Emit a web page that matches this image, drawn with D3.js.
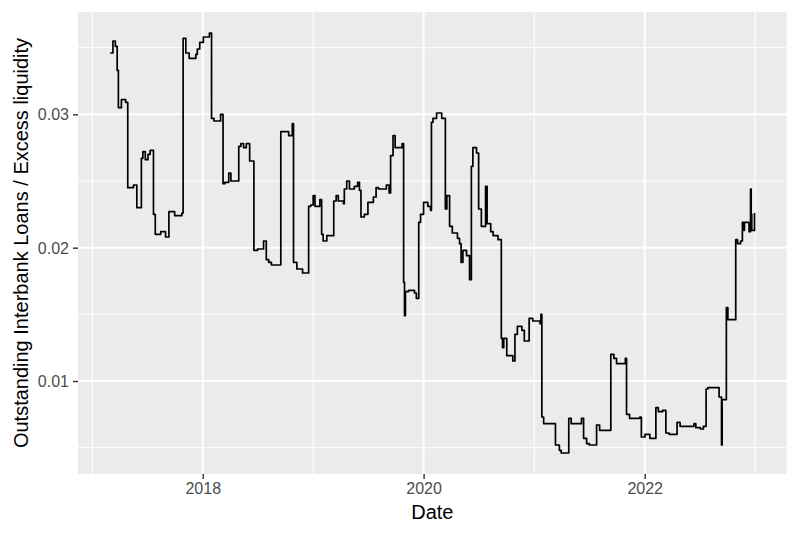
<!DOCTYPE html>
<html><head><meta charset="utf-8">
<script src="https://cdn.jsdelivr.net/npm/d3@7"></script>
<style>body{margin:0;background:#fff}svg{display:block}</style>
</head><body>
<script>
const dates = [
"2017-03-01","2017-03-10","2017-03-18","2017-03-24","2017-03-28","2017-04-07","2017-04-21","2017-04-28","2017-05-17","2017-05-28",
"2017-06-12","2017-06-17","2017-06-25","2017-07-04","2017-07-11","2017-07-22","2017-07-28","2017-08-15","2017-08-31","2017-09-11",
"2017-09-30","2017-10-24","2017-10-28","2017-11-06","2017-11-17","2017-12-09","2017-12-14","2017-12-22","2018-01-03","2018-01-23",
"2018-01-30","2018-02-07","2018-03-01","2018-03-09","2018-03-15","2018-03-28","2018-04-04","2018-04-30","2018-05-07","2018-05-16",
"2018-05-25","2018-06-05","2018-06-19","2018-07-01","2018-07-21","2018-07-30","2018-08-07","2018-08-16","2018-09-16","2018-10-12",
"2018-10-24","2018-10-28","2018-11-08","2018-11-27","2018-12-17","2018-12-24","2019-01-01","2019-01-07","2019-01-23","2019-01-29",
"2019-02-03","2019-02-15","2019-03-10","2019-03-18","2019-03-25","2019-04-11","2019-04-14","2019-04-22","2019-05-01","2019-05-17",
"2019-05-28","2019-06-03","2019-06-08","2019-06-19","2019-07-01","2019-07-19","2019-07-28","2019-08-05","2019-08-31","2019-09-09",
"2019-09-14","2019-09-22","2019-09-29","2019-10-22","2019-10-27","2019-10-30","2019-11-02","2019-11-12","2019-12-02","2019-12-08",
"2019-12-16","2019-12-22","2020-01-01","2020-01-15","2020-01-24","2020-01-27","2020-02-01","2020-02-13","2020-03-01","2020-03-13",
"2020-03-18","2020-03-27","2020-04-05","2020-04-22","2020-04-29","2020-05-04","2020-05-10","2020-05-22","2020-06-01","2020-06-07",
"2020-06-12","2020-06-24","2020-07-01","2020-07-10","2020-07-24","2020-07-29","2020-08-10","2020-08-18","2020-09-03","2020-09-14",
"2020-09-18","2020-09-22","2020-10-02","2020-10-22","2020-10-29","2020-11-06","2020-11-21","2020-11-29","2020-12-15","2020-12-27",
"2021-01-20","2021-01-23","2021-01-26","2021-02-01","2021-03-12","2021-03-25","2021-03-31","2021-04-25","2021-05-03","2021-06-06",
"2021-06-13","2021-06-23","2021-07-02","2021-07-26","2021-08-05","2021-09-11","2021-09-21","2021-09-30","2021-10-29","2021-11-02",
"2021-11-12","2021-12-16","2021-12-21","2022-01-02","2022-01-18","2022-02-07","2022-02-15","2022-03-01","2022-03-12","2022-03-23",
"2022-04-18","2022-04-28","2022-06-13","2022-06-19","2022-07-04","2022-07-14","2022-07-23","2022-07-29","2022-09-04","2022-09-12",
"2022-09-14","2022-09-28","2022-10-03","2022-10-29","2022-11-04","2022-11-14","2022-11-20","2022-11-25","2022-11-27","2022-12-12",
"2022-12-17","2022-12-19","2022-12-21","2022-12-30"];

const ratio = [
0.0346,0.0355,0.0351,0.0333,0.0305,0.0311,0.0309,0.0245,0.0247,0.0230,
0.0267,0.0272,0.0266,0.0270,0.0273,0.0225,0.0210,0.0212,0.0208,0.0227,
0.0224,0.0226,0.0357,0.0346,0.0342,0.0345,0.0349,0.0354,0.0358,0.0361,
0.0297,0.0295,0.0300,0.0248,0.0249,0.0256,0.0250,0.0276,0.0278,0.0275,
0.0278,0.0265,0.0198,0.0199,0.0205,0.0191,0.0189,0.0187,0.0287,0.0284,
0.0293,0.0189,0.0184,0.0181,0.0231,0.0232,0.0239,0.0231,0.0236,0.0210,
0.0205,0.0209,0.0235,0.0239,0.0235,0.0233,0.0244,0.0250,0.0244,0.0246,
0.0249,0.0243,0.0223,0.0225,0.0234,0.0238,0.0245,0.0244,0.0247,0.0241,
0.0269,0.0284,0.0275,0.0278,0.0174,0.0149,0.0167,0.0168,0.0166,0.0162,
0.0219,0.0225,0.0234,0.0231,0.0228,0.0294,0.0297,0.0301,0.0297,0.0229,
0.0239,0.0216,0.0211,0.0207,0.0203,0.0189,0.0198,0.0194,0.0176,0.0261,
0.0275,0.0271,0.0229,0.0216,0.0246,0.0218,0.0212,0.0209,0.0206,0.0132,
0.0125,0.0132,0.0119,0.0115,0.0135,0.0141,0.0138,0.0130,0.0147,0.0145,
0.0143,0.0150,0.0073,0.0068,0.0052,0.0048,0.0046,0.0072,0.0068,0.0072,
0.0057,0.0053,0.0052,0.0067,0.0063,0.0120,0.0117,0.0113,0.0117,0.0075,
0.0072,0.0073,0.0058,0.0060,0.0057,0.0080,0.0077,0.0078,0.0061,0.0060,
0.0069,0.0066,0.0068,0.0065,0.0064,0.0066,0.0094,0.0095,0.0088,0.0052,
0.0086,0.0155,0.0146,0.0206,0.0203,0.0205,0.0219,0.0213,0.0219,0.0212,
0.0244,0.0225,0.0213,0.0226];

const yMajor = [0.01, 0.02, 0.03];
const yMinor = [0.005, 0.015, 0.025, 0.035];
const xMajor = ["2018-01-01", "2020-01-01", "2022-01-01"];
const xMinor = ["2017-01-01", "2019-01-01", "2021-01-01", "2023-01-01"];
const xTitle = "Date";
const yTitle = "Outstanding Interbank Loans / Excess liquidity";

const W = 793, H = 533;
const m = {left: 78, right: 6.3, top: 12, bottom: 59};
const parse = d3.utcParse("%Y-%m-%d");
const data = dates.map((d, i) => ({date: parse(d), v: ratio[i]}));

function expand(ext, f) { const s = ext[1] - ext[0]; return [ext[0] - s * f, ext[1] + s * f]; }
const xExt = d3.extent(data, d => +d.date);
const xDom = expand(xExt, 0.05).map(t => new Date(t));
const yDom = expand(d3.extent(data, d => d.v), 0.05);

const x = d3.scaleUtc().domain(xDom).range([m.left, W - m.right]);
const y = d3.scaleLinear().domain(yDom).range([H - m.bottom, m.top]);

const svg = d3.select("body").append("svg").attr("width", W).attr("height", H)
  .style("font-family", "'Liberation Sans', Arial, sans-serif");

svg.append("rect").attr("x", m.left).attr("y", m.top)
  .attr("width", W - m.left - m.right).attr("height", H - m.top - m.bottom).attr("fill", "#EBEBEB");

const g = svg.append("g");
g.selectAll(".ymin").data(yMinor).join("line")
  .attr("x1", m.left).attr("x2", W - m.right).attr("y1", d => y(d)).attr("y2", d => y(d))
  .attr("stroke", "#fff").attr("stroke-width", 1);
g.selectAll(".xmin").data(xMinor.map(parse)).join("line")
  .attr("y1", m.top).attr("y2", H - m.bottom).attr("x1", d => x(d)).attr("x2", d => x(d))
  .attr("stroke", "#fff").attr("stroke-width", 1);
g.selectAll(".ymaj").data(yMajor).join("line")
  .attr("x1", m.left).attr("x2", W - m.right).attr("y1", d => y(d)).attr("y2", d => y(d))
  .attr("stroke", "#fff").attr("stroke-width", 2);
g.selectAll(".xmaj").data(xMajor.map(parse)).join("line")
  .attr("y1", m.top).attr("y2", H - m.bottom).attr("x1", d => x(d)).attr("x2", d => x(d))
  .attr("stroke", "#fff").attr("stroke-width", 2);

const line = d3.line().x(d => x(d.date)).y(d => y(d.v)).curve(d3.curveStepAfter);
svg.append("path").datum(data).attr("d", line).attr("fill", "none")
  .attr("stroke", "#000").attr("stroke-width", 1.7).attr("stroke-linejoin", "round");

// axes
const yAxis = d3.axisLeft(y).tickValues(yMajor).tickFormat(d3.format(".2f")).tickSize(5).tickPadding(4);
const ya = svg.append("g").attr("transform", `translate(${m.left},0)`).call(yAxis);
ya.select(".domain").remove();
ya.selectAll("line").attr("stroke", "#333").attr("stroke-width", 1.4);
ya.selectAll("text").attr("fill", "#4D4D4D").style("font-size", "16px").attr("dy", "0.35em");

const xAxis = d3.axisBottom(x).tickValues(xMajor.map(parse)).tickFormat(d3.utcFormat("%Y")).tickSize(5).tickPadding(4);
const xa = svg.append("g").attr("transform", `translate(0,${H - m.bottom})`).call(xAxis);
xa.select(".domain").remove();
xa.selectAll("line").attr("stroke", "#333").attr("stroke-width", 1.4);
xa.selectAll("text").attr("fill", "#4D4D4D").style("font-size", "16px");

svg.append("text").attr("x", (m.left + W - m.right) / 2).attr("y", 519)
  .attr("text-anchor", "middle").style("font-size", "20px").attr("fill", "#000").text(xTitle);
svg.append("text").attr("transform", `translate(27.5,${(m.top + H - m.bottom) / 2}) rotate(-90)`)
  .attr("text-anchor", "middle").style("font-size", "20px").attr("fill", "#000").text(yTitle);
</script>
</body></html>
